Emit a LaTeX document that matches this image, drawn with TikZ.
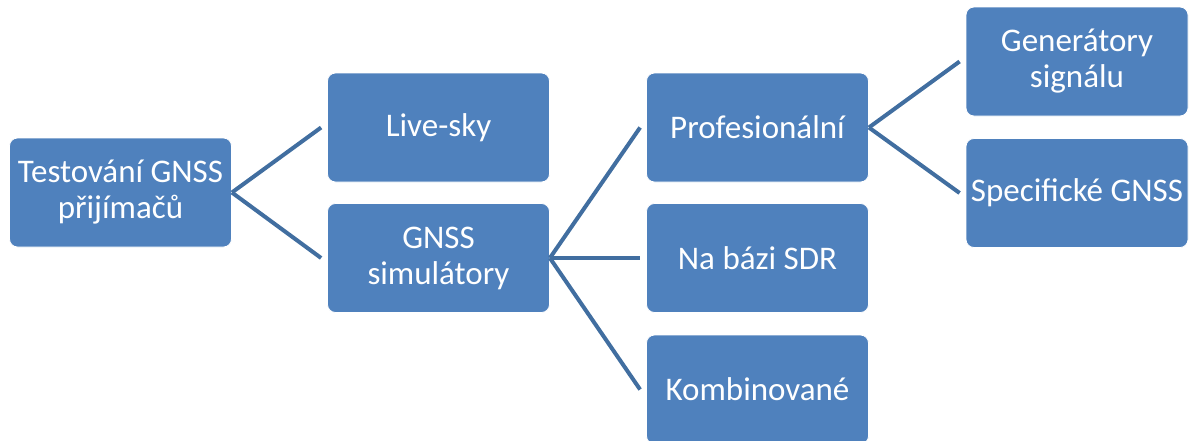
\documentclass[tikz,border=0pt]{standalone}
\usepackage{fontspec}
\setmainfont{Carlito}
\definecolor{boxblue}{RGB}{79,129,189}
\definecolor{linkblue}{RGB}{65,110,160}
\begin{document}
\begin{tikzpicture}[x=1pt,y=-1pt,
  item/.style={fill=boxblue, draw=white, line width=0.8pt, rounded corners=8pt,
    minimum width=222pt, minimum height=109pt, inner sep=2pt,
    text=white, align=center, font=\fontsize{33}{36}\selectfont},
  link/.style={draw=linkblue, line width=4pt}]
\useasboundingbox (0,0) rectangle (1189,440);
\node[item] (root) at (120.5,192.5) {Testování GNSS\\přijímačů};
\node[item] (live) at (438.5,127.5) {Live-sky};
\node[item] (sim) at (438.5,258) {GNSS\\simulátory};
\node[item] (prof) at (757.5,127.5) {Profesionální};
\node[item] (sdr) at (757.5,258) {Na bázi SDR};
\node[item] (komb) at (757.5,389.5) {Kombinované};
\node[item] (gen) at (1077,61.5) {Generátory\\signálu};
\node[item] (spec) at (1077,193) {Specifické GNSS};
% connectors
\draw[link] (root.east) -- ([xshift=-6pt]live.west);
\draw[link] (root.east) -- ([xshift=-6pt]sim.west);
\draw[link] (sim.east) -- ([xshift=-6pt]prof.west);
\draw[link] (sim.east) -- ([xshift=-6pt]sdr.west);
\draw[link] (sim.east) -- ([xshift=-6pt]komb.west);
\draw[link] (prof.east) -- ([xshift=-6pt]gen.west);
\draw[link] (prof.east) -- ([xshift=-6pt]spec.west);
\end{tikzpicture}
\end{document}
